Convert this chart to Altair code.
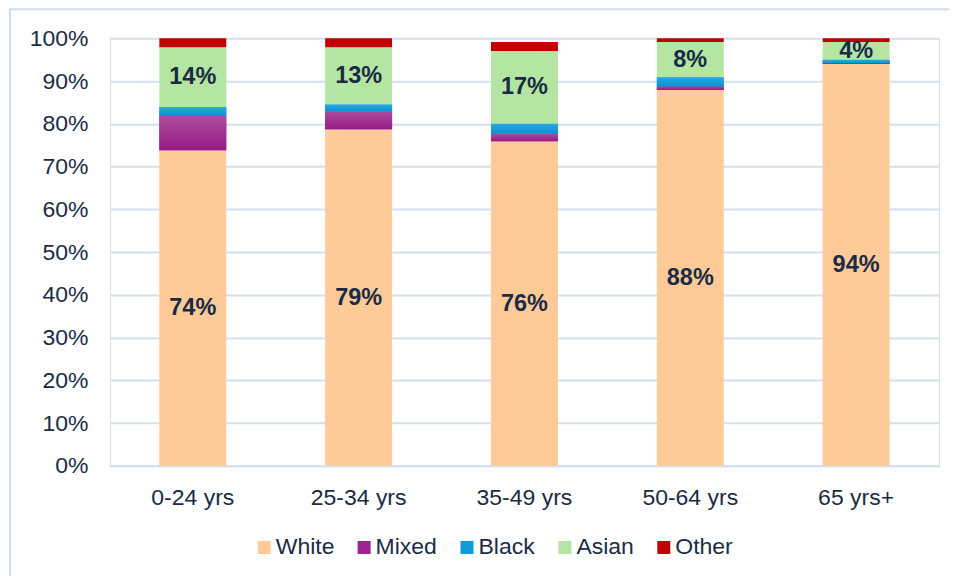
import altair as alt
import pandas as pd

ages = ["0-24 yrs", "25-34 yrs", "35-49 yrs", "50-64 yrs", "65 yrs+"]
groups = ["White", "Mixed", "Black", "Asian", "Other"]
colors = ["#FECA98", "#A0228F", "#0E9CD9", "#B4E5A2", "#C00000"]

white = [73.8, 78.7, 75.9, 87.9, 94.0]
mixed = [8.0, 4.2, 1.8, 0.9, 0.2]
black = [2.1, 1.6, 2.3, 2.1, 0.8]
asian = [14.0, 13.4, 17.0, 8.2, 4.1]
other = [2.1, 2.1, 2.1, 0.9, 0.9]

labelled = ["White", "Asian"]

series = {"White": white, "Mixed": mixed, "Black": black, "Asian": asian, "Other": other}
rows = []
for g_i, g in enumerate(groups):
    for a_i, a in enumerate(ages):
        rows.append({"age": a, "group": g, "ord": g_i, "value": series[g][a_i]})
df = pd.DataFrame(rows)

FONT = "Liberation Sans"
TXT = "#1A2B45"
GRID = "#D3E0F1"
FS = 23

base = alt.Chart(df)

bars = base.mark_bar(size=67).encode(
    x=alt.X("age:N", sort=ages, title=None,
            scale=alt.Scale(paddingInner=0.6, paddingOuter=0.3),
            axis=alt.Axis(labelAngle=0, ticks=False, domain=True, domainColor=GRID,
                          domainWidth=2, labelFontSize=FS, labelFont=FONT,
                          labelColor=TXT, labelPadding=21, grid=False)),
    y=alt.Y("value:Q", stack="zero", title=None,
            scale=alt.Scale(domain=[0, 100], nice=False),
            axis=alt.Axis(values=list(range(0, 101, 10)), labelExpr="datum.value + '%'",
                          ticks=False, domain=False, grid=True, gridColor=GRID,
                          gridWidth=2, labelFontSize=FS, labelFont=FONT,
                          labelColor=TXT, labelPadding=22)),
    color=alt.Color("group:N", sort=groups,
                    scale=alt.Scale(domain=groups, range=colors),
                    legend=alt.Legend(title=None, orient="none", direction="horizontal",
                                      legendX=143, legendY=498, symbolType="square",
                                      symbolSize=169, symbolStrokeWidth=0,
                                      labelFontSize=FS, labelFont=FONT, labelColor=TXT,
                                      labelOffset=0, columnPadding=18)),
    order=alt.Order("ord:Q", sort="ascending"),
)

stacked = base.transform_stack(
    stack="value", groupby=["age"], sort=[alt.SortField("ord", order="ascending")],
    as_=["y0", "y1"]
).transform_calculate(
    mid="(datum.y0 + datum.y1) / 2",
    pct="datum.value / 100",
)

def grad_layer(name, top, bottom):
    return stacked.transform_filter(
        alt.FieldEqualPredicate(field="group", equal=name)
    ).mark_bar(
        size=67,
        fill=alt.Gradient(gradient="linear", x1=0, x2=0, y1=0, y2=1,
                          stops=[alt.GradientStop(color=top, offset=0),
                                 alt.GradientStop(color=bottom, offset=1)])
    ).encode(
        x=alt.X("age:N", sort=ages),
        y=alt.Y("y1:Q"),
        y2="y0:Q",
    )

mixed_grad = grad_layer("Mixed", "#AC4C9E", "#951A84")
black_grad = grad_layer("Black", "#2DA8E1", "#0094D4")

labels = stacked.transform_filter(
    alt.FieldOneOfPredicate(field="group", oneOf=labelled)
).mark_text(fontSize=23.5, fontWeight="bold", font=FONT, color=TXT).encode(
    x=alt.X("age:N", sort=ages),
    y=alt.Y("mid:Q"),
    text=alt.Text("pct:Q", format=".0%"),
)

border = alt.Chart(pd.DataFrame({"k": [0]})).mark_rect(
    fill="transparent", stroke="#CFDDF0", strokeWidth=2
).encode(
    x=alt.value(-100), x2=alt.value(860), y=alt.value(-29), y2=alt.value(560)
)

chart = alt.layer(border, bars, mixed_grad, black_grad, labels).properties(
    width=830, height=428,
    autosize=alt.AutoSizeParams(type="none"),
    padding={"left": 102, "top": 30, "right": 10, "bottom": 110},
).configure_view(stroke=None).configure(background="white")

chart.save("out.html", embed_options={"renderer": "svg", "actions": False})
